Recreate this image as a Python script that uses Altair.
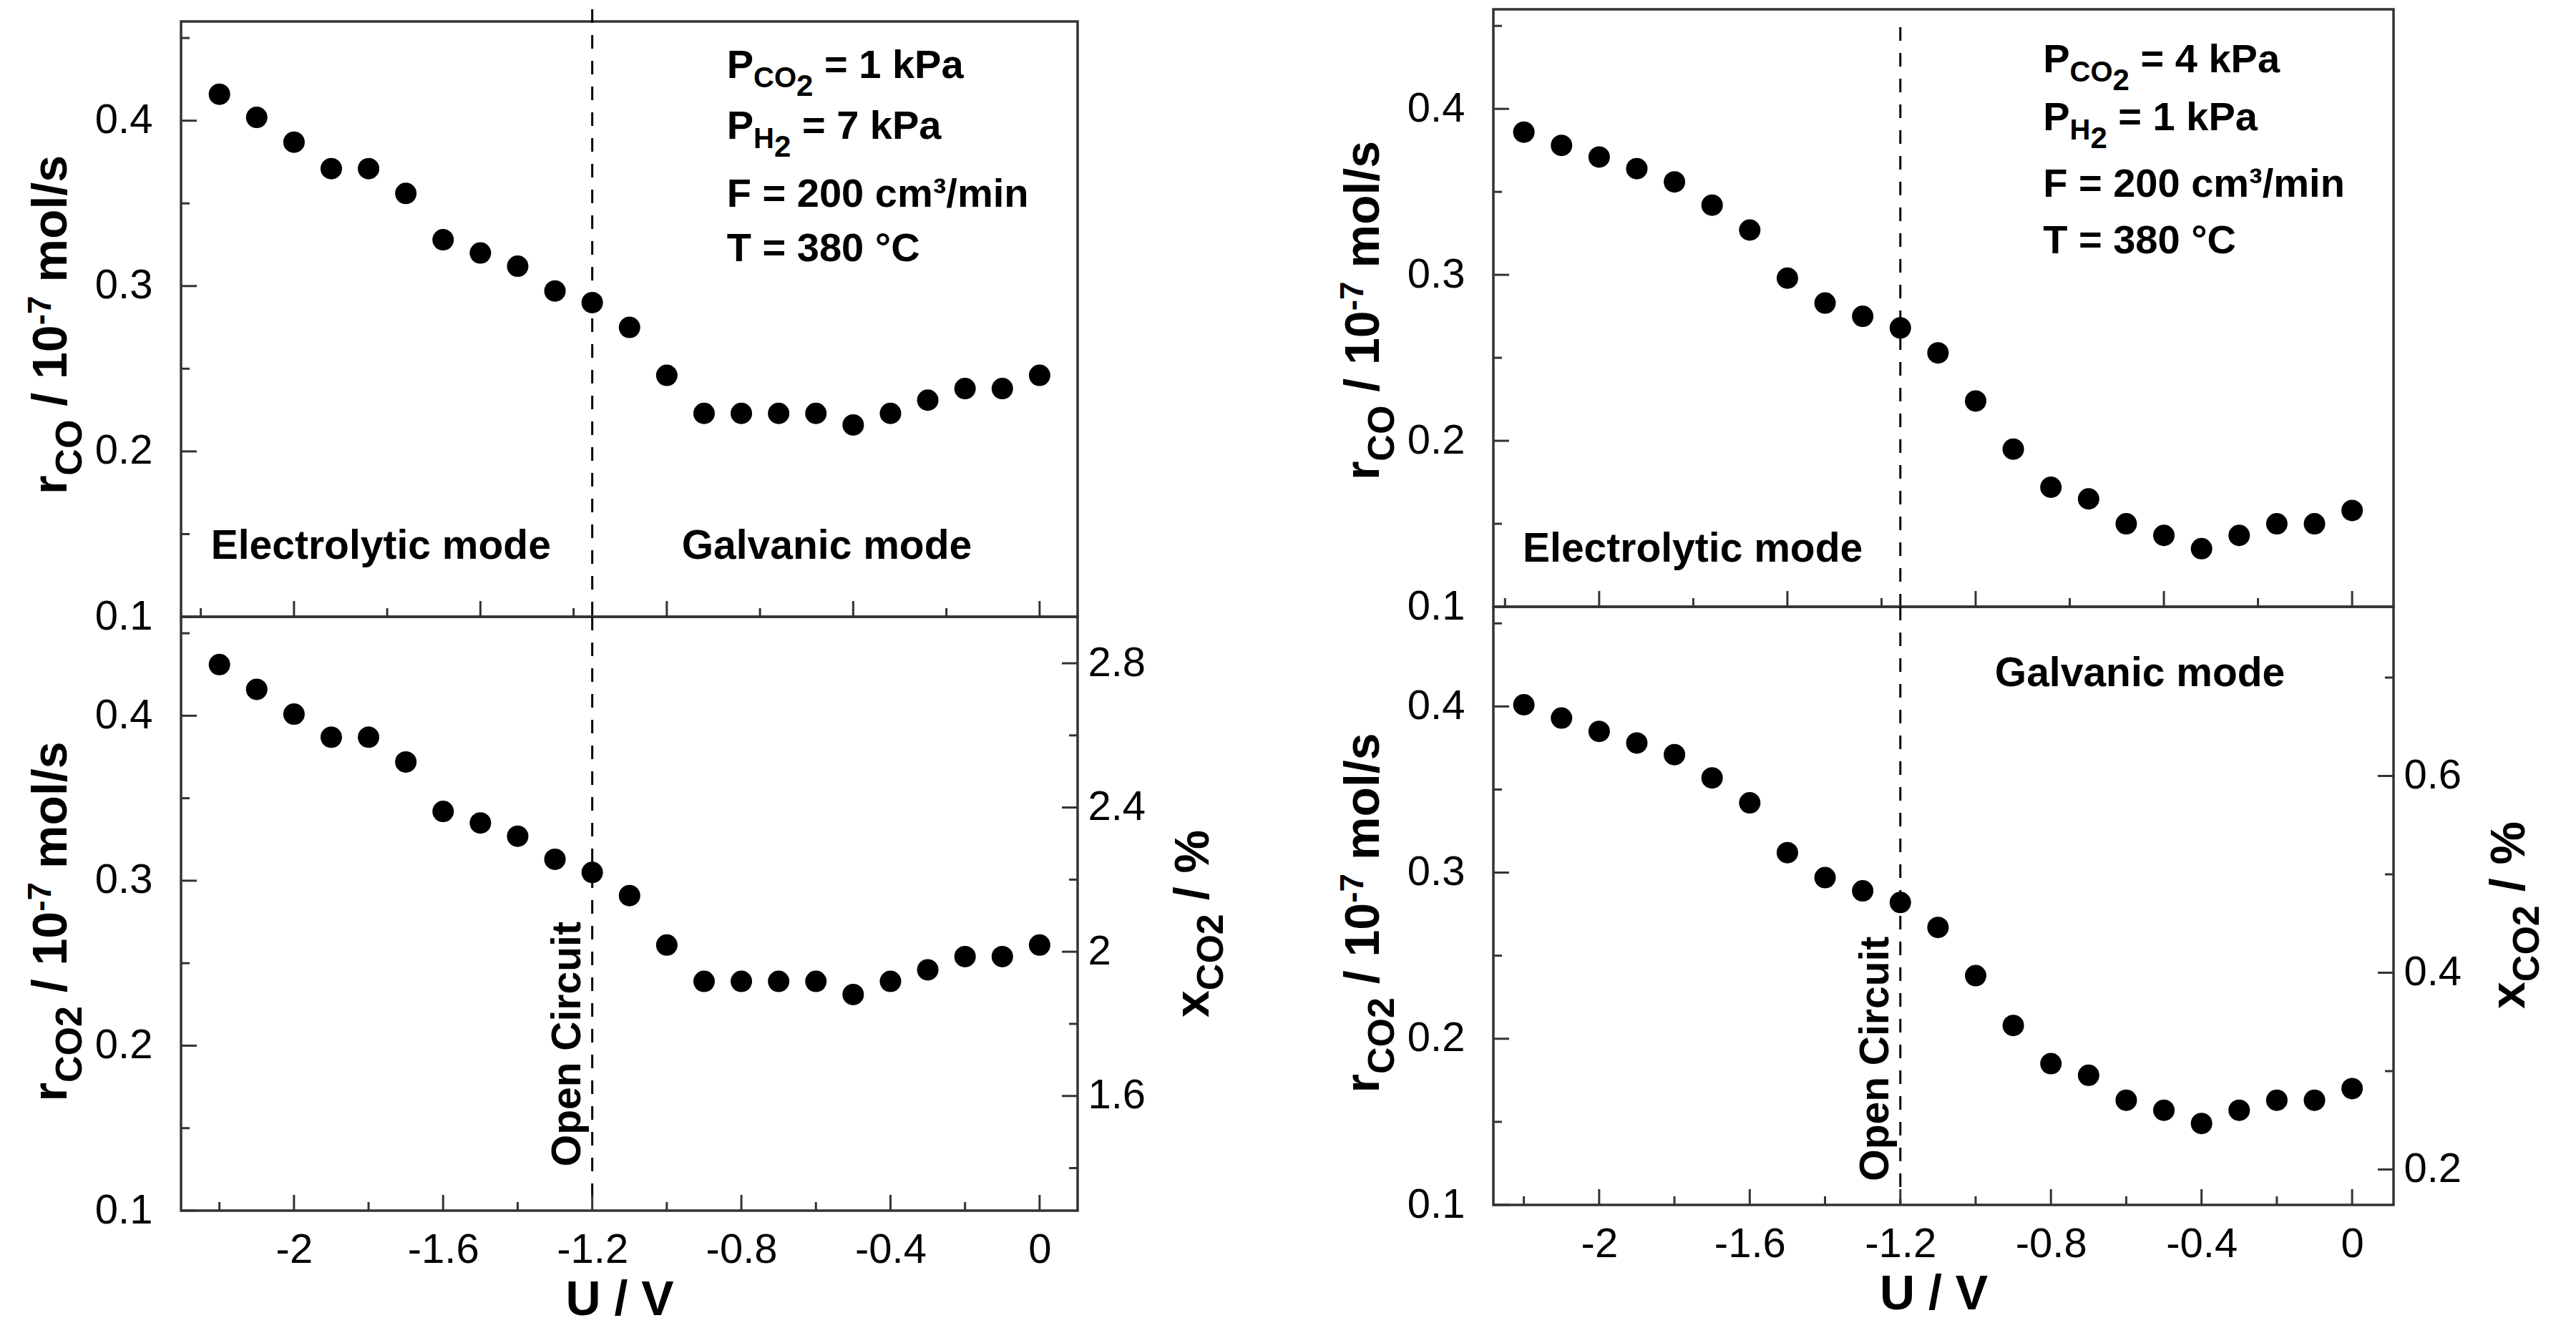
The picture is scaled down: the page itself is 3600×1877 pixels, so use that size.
import altair as alt
import pandas as pd

# Cell potential (V) and measured rates (10^-7 mol/s)
U = [-2.2, -2.1, -2.0, -1.9, -1.8, -1.7, -1.6, -1.5, -1.4, -1.3, -1.2, -1.1,
     -1.0, -0.9, -0.8, -0.7, -0.6, -0.5, -0.4, -0.3, -0.2, -0.1, 0.0]

R_CO_1KPA = [0.416, 0.402, 0.387, 0.371, 0.371, 0.356, 0.328, 0.320, 0.312, 0.297, 0.290, 0.275,
             0.246, 0.223, 0.223, 0.223, 0.223, 0.216, 0.223, 0.231, 0.238, 0.238, 0.246]
R_CO2_1KPA = [0.431, 0.416, 0.401, 0.387, 0.387, 0.372, 0.342, 0.335, 0.327, 0.313, 0.305, 0.291,
              0.261, 0.239, 0.239, 0.239, 0.239, 0.231, 0.239, 0.246, 0.254, 0.254, 0.261]
R_CO_4KPA = [0.386, 0.378, 0.371, 0.364, 0.356, 0.342, 0.327, 0.298, 0.283, 0.275, 0.268, 0.253,
             0.224, 0.195, 0.172, 0.165, 0.150, 0.143, 0.135, 0.143, 0.150, 0.150, 0.158]
R_CO2_4KPA = [0.401, 0.393, 0.385, 0.378, 0.371, 0.357, 0.342, 0.312, 0.297, 0.289, 0.282, 0.267,
              0.238, 0.208, 0.185, 0.178, 0.163, 0.157, 0.149, 0.157, 0.163, 0.163, 0.170]

OPEN_CIRCUIT_U = -1.2

X_MAJOR = [-2.0, -1.6, -1.2, -0.8, -0.4, 0.0]
X_MINOR = [-2.2, -1.8, -1.4, -1.0, -0.6, -0.2]
X_TOP_MAJOR = [-2.0, -1.5, -1.0, -0.5, 0.0]
X_TOP_MINOR = [-2.25, -1.75, -1.25, -0.75, -0.25]
R_MAJOR = [0.1, 0.2, 0.3, 0.4]
R_MINOR = [0.15, 0.25, 0.35, 0.45]
XCO2_1KPA_MAJOR = [1.6, 2.0, 2.4, 2.8]
XCO2_1KPA_MINOR = [1.4, 1.8, 2.2, 2.6]
XCO2_4KPA_MAJOR = [0.2, 0.4, 0.6]
XCO2_4KPA_MINOR = [0.3, 0.5, 0.7]

P_CO2 = ["1 kPa", "4 kPa"]
P_H2 = ["7 kPa", "1 kPa"]
FLOW = "200 cm³/min"
TEMP = "380 °C"

# scale domains
R_DOM = [0.1, 0.46]
X_DOM_L = [-2.303, 0.102]
X_DOM_R = [-2.281, 0.110]
XCO2_DOM_L = [1.282, 2.929]
XCO2_DOM_R = [0.164, 0.772]

FONT = "Liberation Sans, Arial, Helvetica, sans-serif"
INK = "#000000"
FRAME = "#333333"
ONE = pd.DataFrame({"k": [0]})

# Arial bold advance widths (1/1000 em), used to chain sub/superscript pieces
ADV = {" ": 278, "/": 278, "-": 333, "=": 584, "%": 889, "°": 400, "³": 333,
       "C": 722, "O": 778, "H": 722, "P": 667, "F": 611, "T": 611, "E": 667, "G": 778,
       "a": 556, "c": 556, "d": 611, "e": 556, "i": 278, "k": 556, "l": 278, "m": 889,
       "n": 611, "o": 611, "p": 611, "r": 389, "s": 556, "t": 333, "u": 611, "v": 556,
       "x": 556, "y": 556}


def text_w(s, size):
    return sum(ADV.get(c, 556) for c in s) * size / 1000


def lin(dom):
    return alt.Scale(domain=dom, nice=False, zero=False)


def xd(v, dom, axis):
    return alt.XDatum(v, type="quantitative", scale=lin(dom), axis=axis)


def yd(v, dom, axis):
    return alt.YDatum(v, type="quantitative", scale=lin(dom), axis=axis)


def rich(pieces, x, y, angle=0, center=False):
    # pieces: (text, font size, baseline shift); vega trims text, so leading
    # spaces are turned into offset
    total = sum(text_w(t, s) for t, s, _ in pieces)
    off = -total / 2 if center else 0
    out = []
    for t, s, dy in pieces:
        core = t.lstrip(" ")
        off += text_w(t[:len(t) - len(core)], s)
        out.append(alt.Chart(ONE).mark_text(
            text=core, font=FONT, fontSize=s, fontWeight="bold", color=INK,
            align="left", baseline="alphabetic", angle=angle, dx=off, dy=dy,
        ).encode(x=x, y=y))
        off += text_w(core, s)
    return out


def xticks(values, dom, h, length, axis):
    return alt.Chart(pd.DataFrame({"t": values})).mark_rule(color=FRAME, strokeWidth=3).encode(
        x=alt.X("t:Q", scale=lin(dom), axis=axis), y=alt.value(h), y2=alt.value(h - length))


def yticks(values, dom, x0, x1, axis):
    return alt.Chart(pd.DataFrame({"t": values})).mark_rule(color=FRAME, strokeWidth=3).encode(
        y=alt.Y("t:Q", scale=lin(dom), axis=axis), x=alt.value(x0), x2=alt.value(x1))


def label_axis(values, **kw):
    return alt.Axis(values=values, ticks=False, tickSize=0, domain=False, grid=False,
                    labelFont=FONT, labelFontSize=58, labelColor=INK,
                    labelExpr="datum.value + ''", labelOverlap=False,
                    labelFlush=False, labelBound=False, **kw)


def rate_title(species, h_mid):
    return rich([("r", 68, 0), (species, 52, 21), (" / 10", 68, 0), ("-7", 46, -22),
                 (" mol/s", 68, 0)],
                alt.value(-160), alt.value(h_mid), angle=270, center=True)


def params(i, xdom, x0, ys, xaxis, yaxis):
    lines = [[("P", 56, 0), ("CO", 40, 13), ("2", 42, 25), (" = " + P_CO2[i], 56, 0)],
             [("P", 56, 0), ("H", 40, 13), ("2", 42, 25), (" = " + P_H2[i], 56, 0)],
             [("F = " + FLOW, 56, 0)],
             [("T = " + TEMP, 56, 0)]]
    out = []
    for line, y in zip(lines, ys):
        out += rich(line, xd(x0, xdom, xaxis), yd(y, R_DOM, yaxis))
    return out


def mode(label, xdom, x0, y0, xaxis, yaxis):
    return rich([(label, 57, 0)], xd(x0, xdom, xaxis), yd(y0, R_DOM, yaxis))


def dots(rates, xdom, xaxis, yaxis):
    return alt.Chart(pd.DataFrame({"u": U, "r": rates})).mark_circle(
        size=900, color=INK, opacity=1).encode(
        x=alt.X("u:Q", scale=lin(xdom), axis=xaxis),
        y=alt.Y("r:Q", scale=lin(R_DOM), axis=yaxis))


def top_panel(rates, xdom, w, h, dash_top, title_mid, notes):
    ax_y = label_axis(R_MAJOR, labelPadding=40, title=None)
    dash = alt.Chart(ONE).mark_rule(color=INK, strokeWidth=3, strokeDash=[19, 17]).encode(
        x=xd(OPEN_CIRCUIT_U, xdom, None), y=alt.value(dash_top), y2=alt.value(h))
    layers = [dots(rates, xdom, None, ax_y), dash,
              yticks(R_MAJOR, R_DOM, 0, 22, ax_y), yticks(R_MINOR, R_DOM, 0, 12, ax_y),
              xticks(X_TOP_MAJOR, xdom, h, 22, None), xticks(X_TOP_MINOR, xdom, h, 12, None)]
    layers += rate_title("CO", title_mid)
    layers += notes(None, ax_y)
    return alt.layer(*layers).properties(width=w, height=h)


def bottom_panel(rates, xdom, w, h, xco2_dom, xco2_major, xco2_minor,
                 title_mid, right_mid, oc_mid, notes):
    ax_x = label_axis(X_MAJOR, labelPadding=26, title="U / V", titleFont=FONT,
                      titleFontSize=68, titleFontWeight="bold", titleColor=INK,
                      titleX=w / 2 - 14, titleY=145, titleBaseline="alphabetic",
                      titleAlign="center")
    ax_y = label_axis(R_MAJOR, labelPadding=40, title=None)
    ax_r = label_axis(xco2_major, orient="right", labelPadding=14, title=None)
    dash = alt.Chart(ONE).mark_rule(color=INK, strokeWidth=3, strokeDash=[19, 17]).encode(
        x=xd(OPEN_CIRCUIT_U, xdom, ax_x), y=alt.value(0), y2=alt.value(h))
    left = [dots(rates, xdom, ax_x, ax_y), dash,
            yticks(R_MAJOR, R_DOM, 0, 22, ax_y), yticks(R_MINOR, R_DOM, 0, 12, ax_y),
            xticks(X_MAJOR, xdom, h, 22, ax_x), xticks(X_MINOR, xdom, h, 12, ax_x)]
    left += rich([("Open Circuit", 57, -17)], xd(OPEN_CIRCUIT_U, xdom, ax_x),
                 yd(oc_mid, R_DOM, ax_y), angle=270, center=True)
    left += rate_title("CO2", title_mid)
    left += rich([("x", 68, 0), ("CO2", 52, 20), (" / %", 68, 0)],
                 alt.value(w + 183), alt.value(right_mid), angle=270, center=True)
    left += notes(ax_x, ax_y)
    right = [yticks(xco2_major, xco2_dom, w - 22, w, ax_r),
             yticks(xco2_minor, xco2_dom, w - 12, w, ax_r)]
    return alt.layer(alt.layer(*left), alt.layer(*right)).resolve_scale(
        y="independent").properties(width=w, height=h)


# empty strip that lowers the left column below the right one
spacer = alt.Chart(ONE).mark_point(opacity=0).encode(
    x=alt.value(0), y=alt.value(0)
).properties(width=1253, height=17, view=alt.ViewBackground(stroke="transparent", strokeWidth=0))

left_col = alt.vconcat(
    spacer,
    top_panel(R_CO_1KPA, X_DOM_L, 1253, 832, -17, 424,
              lambda ax, ay: params(0, X_DOM_L, -0.839, [0.426, 0.389, 0.348, 0.315], ax, ay)
              + mode("Electrolytic mode", X_DOM_L, -2.223, 0.135, ax, ay)
              + mode("Galvanic mode", X_DOM_L, -0.960, 0.135, ax, ay)),
    bottom_panel(R_CO2_1KPA, X_DOM_L, 1253, 830, XCO2_DOM_L, XCO2_1KPA_MAJOR, XCO2_1KPA_MINOR,
                 426, 429, 0.201, lambda ax, ay: []),
    spacing=0, bounds="flush",
)

right_col = alt.vconcat(
    top_panel(R_CO_4KPA, X_DOM_R, 1258, 835, 25, 421,
              lambda ax, ay: params(1, X_DOM_R, -0.821, [0.422, 0.387, 0.347, 0.313], ax, ay)
              + mode("Electrolytic mode", X_DOM_R, -2.203, 0.127, ax, ay)),
    bottom_panel(R_CO2_4KPA, X_DOM_R, 1258, 836, XCO2_DOM_R, XCO2_4KPA_MAJOR, XCO2_4KPA_MINOR,
                 428, 431, 0.188,
                 lambda ax, ay: mode("Galvanic mode", X_DOM_R, -0.949, 0.412, ax, ay)),
    spacing=0, bounds="flush",
)

chart = alt.hconcat(left_col, right_col, spacing=145, bounds="full").properties(
    padding={"left": 24, "top": 1, "right": 5, "bottom": 5}
).configure(font=FONT).configure_view(stroke=FRAME, strokeWidth=3.5)

chart.save("out.html", embed_options={"renderer": "svg", "actions": False})
